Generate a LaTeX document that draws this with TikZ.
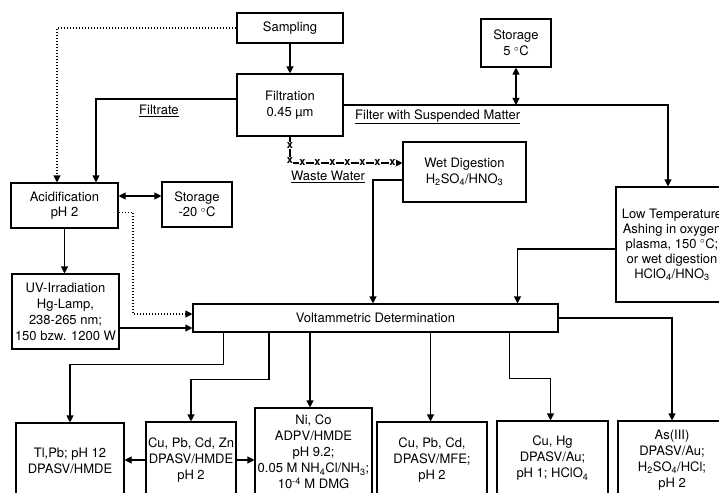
\documentclass[tikz,border=0pt]{standalone}
\usepackage{fontspec}
\setmainfont{TeX Gyre Heros}
\usetikzlibrary{arrows.meta,decorations.markings}
\tikzset{
  box/.style={draw, line width=1.1pt, align=center, inner sep=0pt, font=\fontsize{13}{15.5}\selectfont},
  lbl/.style={inner sep=0pt, font=\fontsize{13}{15.5}\selectfont, anchor=west},
  conn/.style={line width=1.1pt},
  arr/.style={conn, -{Triangle[length=7pt,width=7pt]}},
  darr/.style={conn, {Triangle[length=7pt,width=7pt]}-{Triangle[length=7pt,width=7pt]}},
  dotarr/.style={conn, dash pattern=on 1.2pt off 1.8pt, -{Triangle[length=7pt,width=7pt]}},
  xline/.style={arr, postaction={decorate}, decoration={markings,
     mark=between positions 9pt and 130pt step 15pt with {\node[fill=white, inner sep=0.4pt, font=\fontsize{11}{11}\selectfont\bfseries]{x};}}}
}
\begin{document}
\begin{tikzpicture}[x=1pt,y=-1pt]
\useasboundingbox (0,0) rectangle (719,492);
\clip (0,0) rectangle (719,492);
% boxes
\node[box, minimum width=106, minimum height=30] (samp) at (290,28) {Sampling};
\node[box, minimum width=106, minimum height=62] (filt) at (290,105) {Filtration\\0.45 µm};
\node[box, minimum width=70, minimum height=48] (st5) at (516,43) {Storage\\5 $^{\circ}$C};
\node[box, minimum width=107, minimum height=45] (acid) at (64.5,205.5) {Acidification\\pH 2};
\node[box, minimum width=70, minimum height=45] (st20) at (197,204.5) {Storage\\-20 $^{\circ}$C};
\node[box, minimum width=123, minimum height=60] (wet) at (464.5,172) {Wet Digestion\\H\textsubscript{2}SO\textsubscript{4}/HNO\textsubscript{3}};
\node[box, minimum width=107, minimum height=75, font=\fontsize{13}{16}\selectfont] (uv) at (65.5,311.5) {UV-Irradiation\\Hg-Lamp,\\238-265 nm;\\150 bzw. 1200 W};
\node[box, minimum width=112, minimum height=115, font=\fontsize{13}{15}\selectfont] (low) at (672,244.5) {Low Temperature\\Ashing in oxygen\\plasma, 150 $^{\circ}$C;\\or wet digestion\\HClO\textsubscript{4}/HNO\textsubscript{3}};
\node[box, minimum width=365, minimum height=28] (volt) at (375.5,318) {Voltammetric Determination};
\node[box, minimum width=108, minimum height=76, font=\fontsize{13}{16}\selectfont] (tl) at (70,461) {Tl,Pb; pH 12\\DPASV/HMDE};
\node[box, minimum width=90, minimum height=76, font=\fontsize{13}{16}\selectfont] (cz) at (191,460) {Cu, Pb, Cd, Zn\\DPASV/HMDE\\pH 2};
\node[box, minimum width=117, minimum height=88, font=\fontsize{13}{16}\selectfont] (nico) at (313.5,452) {Ni, Co\\ADPV/HMDE\\pH 9.2;\\0.05 M NH\textsubscript{4}Cl/NH\textsubscript{3};\\10\textsuperscript{-4} M DMG};
\node[box, minimum width=110, minimum height=76, font=\fontsize{13}{16}\selectfont] (mfe) at (432,460) {Cu, Pb, Cd,\\DPASV/MFE;\\pH 2};
\node[box, minimum width=111, minimum height=75, font=\fontsize{13}{16}\selectfont] (cuhg) at (552.5,458.5) {Cu, Hg\\DPASV/Au;\\pH 1; HClO\textsubscript{4}};
\node[box, minimum width=108, minimum height=78, font=\fontsize{13}{16}\selectfont] (as) at (672,460) {As(III)\\DPASV/Au;\\H\textsubscript{2}SO\textsubscript{4}/HCl;\\pH 2};
% labels
\node[lbl] (lfiltrate) at (139,111) {\underline{Filtrate}};
\node[lbl] (lfilter) at (355,117) {\underline{Filter with Suspended Matter}};
\node[lbl] (lwaste) at (291,177) {\underline{Waste Water}};
% connectors
\draw[arr] (samp.south) -- (filt.north);
\draw[dotarr] (samp.west) -| ([xshift=-7.5]acid.north);
\draw[arr] ([yshift=6]filt.west) -| ([xshift=31.5]acid.north);
\draw[arr] (filt.east) -| ([xshift=-4]low.north);
\coordinate (j5) at (516,105);
\draw[darr] (st5.south) -- (j5);
\draw[xline] (filt.south) |- ([yshift=9]wet.west);
\draw[arr] ([yshift=-8]wet.west) -| ([xshift=-2.5]volt.north);
\draw[arr] ([yshift=-4.5]low.west) -| ([xshift=142]volt.north);
\draw[darr] ([yshift=9.5]acid.east) -- ([yshift=9.5]acid.east -| st20.west);
\coordinate (d1) at (133,314);
\draw[dotarr] ([yshift=-7]acid.east) -| (d1) -- ([yshift=4]volt.west);
\draw[arr] (acid.south) -- (acid.south |- uv.north);
\draw[arr] ([yshift=-16.5]uv.east) -- ([yshift=-16.5]uv.east -| volt.west);
\draw[arr] ([xshift=-152]volt.south) -- ++(0,32) -| (tl.north);
\draw[arr] ([xshift=-106.5]volt.south) -- ++(0,47) -| (cz.north);
\draw[arr] ([xshift=-65.5]volt.south) -- ([xshift=-65.5]volt.south |- nico.north);
\draw[arr] ([xshift=55]volt.south) -- ([xshift=55]volt.south |- mfe.north);
\draw[arr] ([xshift=134]volt.south) -- ++(0,46) -| ([xshift=-2]cuhg.north);
\draw[arr] (volt.east) -| (as.north);
\draw[arr] (cz.west) -- (cz.west -| tl.east);
\draw[arr] (cz.east) -- (cz.east -| nico.west);
\end{tikzpicture}
\end{document}
